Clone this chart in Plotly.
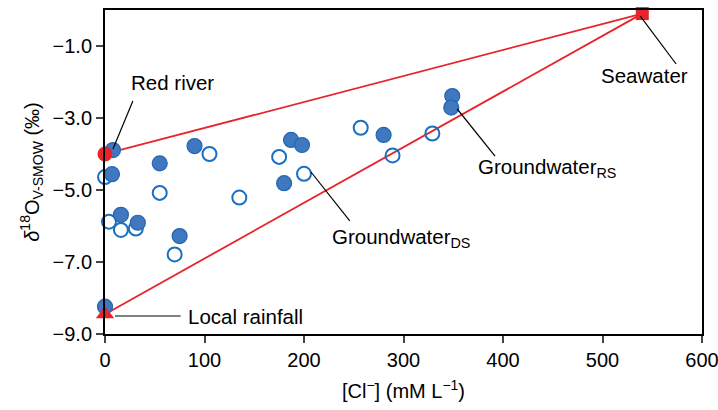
import plotly.graph_objects as go

# Groundwater RS (filled circles)
rs_cl = [8, 7, 16, 33, 75, 55, 90, 0, 187, 198, 180, 280, 349, 348]
rs_d18o = [-3.89, -4.56, -5.69, -5.91, -6.28, -4.26, -3.78, -8.24, -3.61, -3.75, -4.81, -3.47, -2.39, -2.71]

# Groundwater DS (open circles)
ds_cl = [0, 4, 16, 31, 70, 55, 105, 135, 175, 200, 257, 289, 329]
ds_d18o = [-4.64, -5.88, -6.11, -6.07, -6.79, -5.08, -4.0, -5.21, -4.08, -4.55, -3.27, -4.04, -3.43]

# End-members
river_cl, river_d18o = 0, -4.0
rain_cl, rain_d18o = 0, -8.45
sea_cl, sea_d18o = 540, -0.1

FONT = "Liberation Sans, Arial, Helvetica, sans-serif"
RED = "#e8232a"

fig = go.Figure()

# mixing lines
fig.add_trace(go.Scatter(x=[river_cl, sea_cl], y=[river_d18o, sea_d18o], mode="lines",
                         line=dict(color=RED, width=1.8), showlegend=False, cliponaxis=False))
fig.add_trace(go.Scatter(x=[rain_cl, sea_cl], y=[rain_d18o, sea_d18o], mode="lines",
                         line=dict(color=RED, width=1.8), showlegend=False, cliponaxis=False))

fig.add_trace(go.Scatter(x=ds_cl, y=ds_d18o, mode="markers", showlegend=False, cliponaxis=False,
                         marker=dict(symbol="circle-open", size=14, color="#1b6fc0",
                                     line=dict(width=2, color="#1b6fc0"))))
fig.add_trace(go.Scatter(x=rs_cl, y=rs_d18o, mode="markers", showlegend=False, cliponaxis=False,
                         marker=dict(symbol="circle", size=15, color="#3f78be",
                                     line=dict(width=1.2, color="#2466b0"))))

fig.add_trace(go.Scatter(x=[river_cl], y=[river_d18o], mode="markers", showlegend=False, cliponaxis=False,
                         marker=dict(symbol="circle", size=15, color=RED, line=dict(width=0))))
fig.add_trace(go.Scatter(x=[rain_cl], y=[rain_d18o], mode="markers", showlegend=False, cliponaxis=False,
                         marker=dict(symbol="triangle-up", size=16, color=RED, line=dict(width=0))))
fig.add_trace(go.Scatter(x=[sea_cl], y=[sea_d18o], mode="markers", showlegend=False, cliponaxis=False,
                         marker=dict(symbol="square", size=13, color=RED, line=dict(width=0))))

# leader lines
leaders = [
    (28, -2.53, 8, -3.86),
    (538, -0.17, 574, -1.5),
    (354, -2.75, 392, -4.06),
    (207, -4.5, 246, -5.86),
    (10, -8.5, 76, -8.5),
]
for x0, y0, x1, y1 in leaders:
    fig.add_shape(type="line", xref="x", yref="y", x0=x0, y0=y0, x1=x1, y1=y1,
                  line=dict(color="black", width=1.2))

labels = [
    (68, -2.0, "Red river", "center"),
    (542, -1.81, "Seawater", "center"),
    (373, -4.39, "Groundwater<sub>RS</sub>", "left"),
    (226, -6.33, "Groundwater<sub>DS</sub>", "left"),
    (81, -8.5, "Local rainfall", "left"),
]
for x, y, t, xa in labels:
    fig.add_annotation(x=x, y=y, xref="x", yref="y", text=t, showarrow=False,
                       xanchor=xa, yanchor="middle", font=dict(size=20.5, color="black", family=FONT))

fig.update_xaxes(range=[0, 600], dtick=100, tick0=0, ticks="outside", ticklen=7, tickwidth=1.5,
                 showline=True, linecolor="black", linewidth=2, mirror=True, showgrid=False,
                 zeroline=False, automargin=False, ticklabeloverflow="allow",
                 tickfont=dict(size=20, family=FONT, color="black"),
                 title=dict(text="[Cl<sup>−</sup>] (mM L<sup>−1</sup>)", font=dict(size=20, family=FONT, color="black"),
                            standoff=14))
fig.update_yaxes(range=[-9, 0], tickvals=[-9, -7, -5, -3, -1], tickformat=".1f", ticks="outside",
                 ticklen=7, tickwidth=1.5, showline=True, linecolor="black", linewidth=2, mirror=True,
                 showgrid=False, zeroline=False, automargin=False,
                 tickfont=dict(size=20, family=FONT, color="black"),
                 title=dict(text="<i>δ</i><sup>18</sup>O<sub>V-SMOW</sub> (‰)",
                            font=dict(size=20, family=FONT, color="black"), standoff=8))

fig.update_layout(width=718, height=410, margin=dict(l=105, r=16, t=10, b=76),
                  plot_bgcolor="white", paper_bgcolor="white", font=dict(family=FONT))

fig.write_html("out.html")
